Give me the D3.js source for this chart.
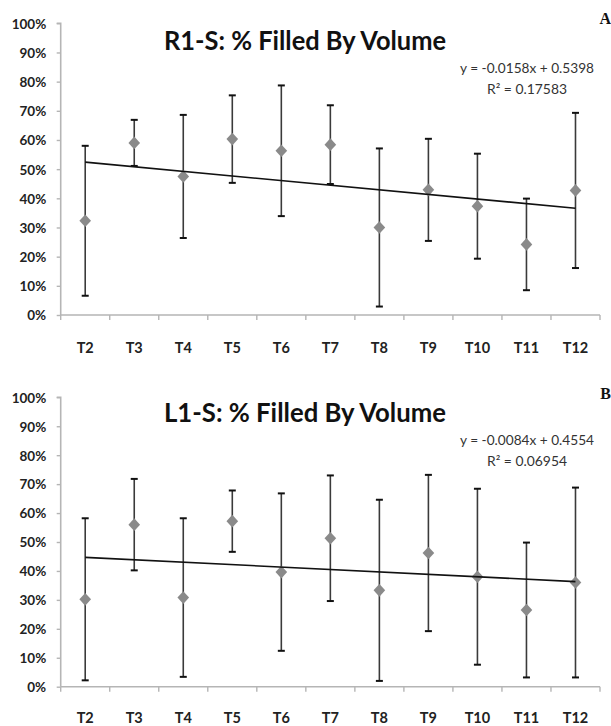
<!DOCTYPE html>
<html>
<head>
<meta charset="utf-8">
<script src="https://cdn.jsdelivr.net/npm/d3@7/dist/d3.min.js"></script>
<style>
  html, body { margin: 0; padding: 0; background: #fff; }
  svg { display: block; }
</style>
</head>
<body>
<svg id="chart" width="611" height="726"></svg>
<script>
// ---------- DATA ----------
const categories = ["T2","T3","T4","T5","T6","T7","T8","T9","T10","T11","T12"];
const yTicks = [0, 0.1, 0.2, 0.3, 0.4, 0.5, 0.6, 0.7, 0.8, 0.9, 1.0];

// Panel A: R1-S
const titleA = "R1-S: % Filled By Volume";
const meanA = [0.323, 0.590, 0.475, 0.603, 0.563, 0.584, 0.300, 0.429, 0.373, 0.242, 0.427];
const errA  = [0.257, 0.079, 0.211, 0.150, 0.224, 0.135, 0.271, 0.175, 0.180, 0.157, 0.266];
const slopeA = -0.0158, interceptA = 0.5398;
const eqA = "y = -0.0158x + 0.5398";
const r2A = "R² = 0.17583";
const letterA = "A";

// Panel B: L1-S
const titleB = "L1-S: % Filled By Volume";
const meanB = [0.302, 0.560, 0.308, 0.572, 0.396, 0.513, 0.333, 0.462, 0.380, 0.265, 0.360];
const errB  = [0.280, 0.158, 0.274, 0.106, 0.272, 0.217, 0.313, 0.270, 0.304, 0.233, 0.328];
const slopeB = -0.0084, interceptB = 0.4554;
const eqB = "y = -0.0084x + 0.4554";
const r2B = "R² = 0.06954";
const letterB = "B";

// ---------- DRAW ----------
const svg = d3.select("#chart");
const FONT = "Lato, 'Open Sans', 'Liberation Sans', sans-serif";

const squareDiamond = {
  draw(ctx, size) {
    const w = Math.sqrt(size) / 2 * 0.92, h = Math.sqrt(size) / 2;
    ctx.moveTo(0, -h); ctx.lineTo(w, 0); ctx.lineTo(0, h); ctx.lineTo(-w, 0); ctx.closePath();
  }
};

function panel(cfg) {
  const g = svg.append("g");
  const x = d3.scaleBand().domain(categories).range([60.7, 600]).paddingInner(0).paddingOuter(0);
  const y = d3.scaleLinear().domain([0, 1]).range([cfg.y0, cfg.y100]);
  const cx = d => x(d) + x.bandwidth() / 2;

  // Y axis
  const yAxis = d3.axisLeft(y).tickValues(yTicks).tickFormat(d3.format(".0%")).tickSize(4).tickPadding(10);
  const ya = g.append("g").attr("transform", "translate(60.7,0)").call(yAxis);
  ya.select(".domain").attr("stroke", "#b5b5b5").attr("stroke-width", 1.6).attr("d", `M-4,${cfg.y100}H0V${cfg.y0}`);
  ya.selectAll(".tick line").attr("stroke", "#b5b5b5").attr("stroke-width", 1.4);
  ya.selectAll(".tick text").attr("font-family", FONT).attr("font-weight", "bold")
    .attr("font-size", 13.5).attr("fill", "#222").attr("dx", "-0.5").attr("dy", "0.36em");

  // X axis with boundary ticks
  const xa = g.append("g").attr("transform", `translate(0,${cfg.y0})`);
  xa.append("line").attr("x1", 60.7).attr("x2", 600).attr("y1", 0).attr("y2", 0)
    .attr("stroke", "#b5b5b5").attr("stroke-width", 1.6);
  const bounds = categories.map(c => x(c)).concat([600]);
  xa.selectAll("line.b").data(bounds).join("line").attr("class", "b")
    .attr("x1", d => d).attr("x2", d => d).attr("y1", 0).attr("y2", 5)
    .attr("stroke", "#b5b5b5").attr("stroke-width", 1.4);
  xa.selectAll("text").data(categories).join("text")
    .attr("x", d => cx(d)).attr("y", cfg.labelY - cfg.y0)
    .attr("text-anchor", "middle").attr("font-family", FONT).attr("font-weight", "bold")
    .attr("font-size", 14.5).attr("fill", "#222").text(d => d);

  // Error bars
  const eb = g.append("g");
  categories.forEach((c, i) => {
    const top = y(cfg.mean[i] + cfg.err[i]), bot = y(cfg.mean[i] - cfg.err[i]);
    eb.append("line").attr("x1", cx(c)).attr("x2", cx(c)).attr("y1", top).attr("y2", bot)
      .attr("stroke", "#3a3a3a").attr("stroke-width", 1.6);
    [top, bot].forEach(v => eb.append("line").attr("x1", cx(c) - 3.5).attr("x2", cx(c) + 3.5)
      .attr("y1", v).attr("y2", v).attr("stroke", "#111").attr("stroke-width", 2));
  });

  // Markers
  g.append("g").selectAll("path").data(categories).join("path")
    .attr("transform", (d, i) => `translate(${cx(d)},${y(cfg.mean[i])})`)
    .attr("d", d3.symbol().type(squareDiamond).size(160))
    .attr("fill", "#8a8a8a");

  // Trend line
  const n = categories.length;
  const tl = d3.line().x(d => cx(categories[d - 1])).y(d => y(cfg.intercept + cfg.slope * d));
  g.append("path").attr("d", tl([1, n])).attr("stroke", "#111").attr("stroke-width", 1.6).attr("fill", "none");

  // Title
  g.append("text").attr("x", 305).attr("y", cfg.titleY).attr("text-anchor", "middle")
    .attr("font-family", FONT).attr("font-weight", "bold").attr("font-size", 26)
    .attr("textLength", 282).attr("lengthAdjust", "spacingAndGlyphs")
    .attr("fill", "#111").text(cfg.title);

  // Equation
  g.append("text").attr("x", 527).attr("y", cfg.eqY).attr("text-anchor", "middle")
    .attr("font-family", FONT).attr("font-size", 13.5).attr("fill", "#333")
    .attr("textLength", 134).attr("lengthAdjust", "spacingAndGlyphs").text(cfg.eq);
  g.append("text").attr("x", 527).attr("y", cfg.eqY + 21).attr("text-anchor", "middle")
    .attr("font-family", FONT).attr("font-size", 13.5).attr("fill", "#333")
    .attr("textLength", 80).attr("lengthAdjust", "spacingAndGlyphs").text(cfg.r2);

  // Panel letter
  g.append("text").attr("x", 611).attr("y", cfg.letterY).attr("text-anchor", "end")
    .attr("font-family", "'Liberation Serif', 'DejaVu Serif', serif").attr("font-weight", "bold")
    .attr("font-size", 16).attr("fill", "#111").text(cfg.letter);
}

panel({ y0: 315, y100: 23.3, mean: meanA, err: errA, slope: slopeA, intercept: interceptA,
        title: titleA, eq: eqA, r2: r2A, letter: letterA,
        titleY: 50, eqY: 72.5, labelY: 352.7, letterY: 24 });
panel({ y0: 686.7, y100: 397.3, mean: meanB, err: errB, slope: slopeB, intercept: interceptB,
        title: titleB, eq: eqB, r2: r2B, letter: letterB,
        titleY: 422, eqY: 445, labelY: 723.3, letterY: 399 });
</script>
</body>
</html>
